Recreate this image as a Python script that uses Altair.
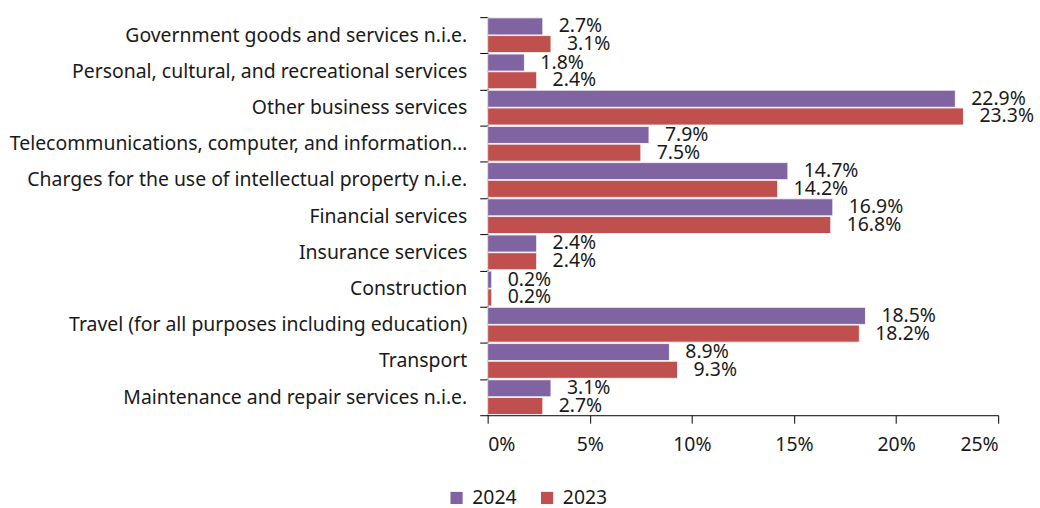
import altair as alt
import pandas as pd

categories = [
    "Government goods and services n.i.e.",
    "Personal, cultural, and recreational services",
    "Other business services",
    "Telecommunications, computer, and information…",
    "Charges for the use of intellectual property n.i.e.",
    "Financial services",
    "Insurance services",
    "Construction",
    "Travel (for all purposes including education) ",
    "Transport",
    "Maintenance and repair services n.i.e.",
]
share_2024 = [2.7, 1.8, 22.9, 7.9, 14.7, 16.9, 2.4, 0.2, 18.5, 8.9, 3.1]
share_2023 = [3.1, 2.4, 23.3, 7.5, 14.2, 16.8, 2.4, 0.2, 18.2, 9.3, 2.7]
years = ["2024", "2023"]
colors = ["#8064A2", "#C0504D"]
x_ticks = [0, 5, 10, 15, 20, 25]

rows = []
for year, vals in zip(years, [share_2024, share_2023]):
    for cat, v in zip(categories, vals):
        rows.append({"category": cat, "year": year, "share": v})
df = pd.DataFrame(rows)

FONT = "Noto Sans"
FS = 19.5
INK = "#1a1a1a"

y_enc = alt.Y(
    "category:N",
    sort=categories,
    title=None,
    scale=alt.Scale(paddingInner=0, paddingOuter=0),
    axis=alt.Axis(
        tickBand="extent",
        tickSize=8,
        tickColor="#000",
        domainColor="#000",
        labelPadding=13,
        labelFontSize=FS,
        labelColor=INK,
        labelLimit=700,
        labelFont=FONT,
    ),
)
yoff = alt.YOffset("year:N", sort=years, scale=alt.Scale(paddingInner=0.04, paddingOuter=0.04))
x_enc = alt.X(
    "share:Q",
    title=None,
    scale=alt.Scale(domain=[0, 25], nice=False),
    axis=alt.Axis(
        values=x_ticks,
        labelExpr="datum.value + '%'",
        grid=False,
        tickSize=8,
        tickColor="#000",
        domainColor="#000",
        labelPadding=12,
        labelFontSize=FS,
        labelColor=INK,
        labelFont=FONT,
    ),
)

bars = alt.Chart(df).mark_bar(stroke="white", strokeWidth=0.8).encode(
    y=y_enc,
    yOffset=yoff,
    x=x_enc,
    color=alt.Color(
        "year:N",
        scale=alt.Scale(domain=years, range=colors),
        legend=alt.Legend(
            title=None,
            orient="none",
            direction="horizontal",
            legendX=-41,
            legendY=473,
            symbolType="square",
            symbolSize=150,
            symbolStrokeWidth=0,
            labelFontSize=FS,
            labelFont=FONT,
            labelColor=INK,
            labelOffset=6,
            columnPadding=20,
        ),
    ),
)

labels = alt.Chart(df).transform_calculate(
    label="format(datum.share, '.1f') + '%'"
).mark_text(align="left", baseline="middle", dx=16, fontSize=FS, font=FONT, color=INK).encode(
    y=alt.Y("category:N", sort=categories),
    yOffset=alt.YOffset("year:N", sort=years),
    x="share:Q",
    text="label:N",
)

chart = (
    alt.layer(bars, labels)
    .properties(width=513, height=400, padding={"left": 8, "top": 6, "right": 5, "bottom": 0})
    .configure(font=FONT)
    .configure_view(stroke=None)
)

chart.save("out.html", embed_options={"renderer": "svg", "actions": False})
